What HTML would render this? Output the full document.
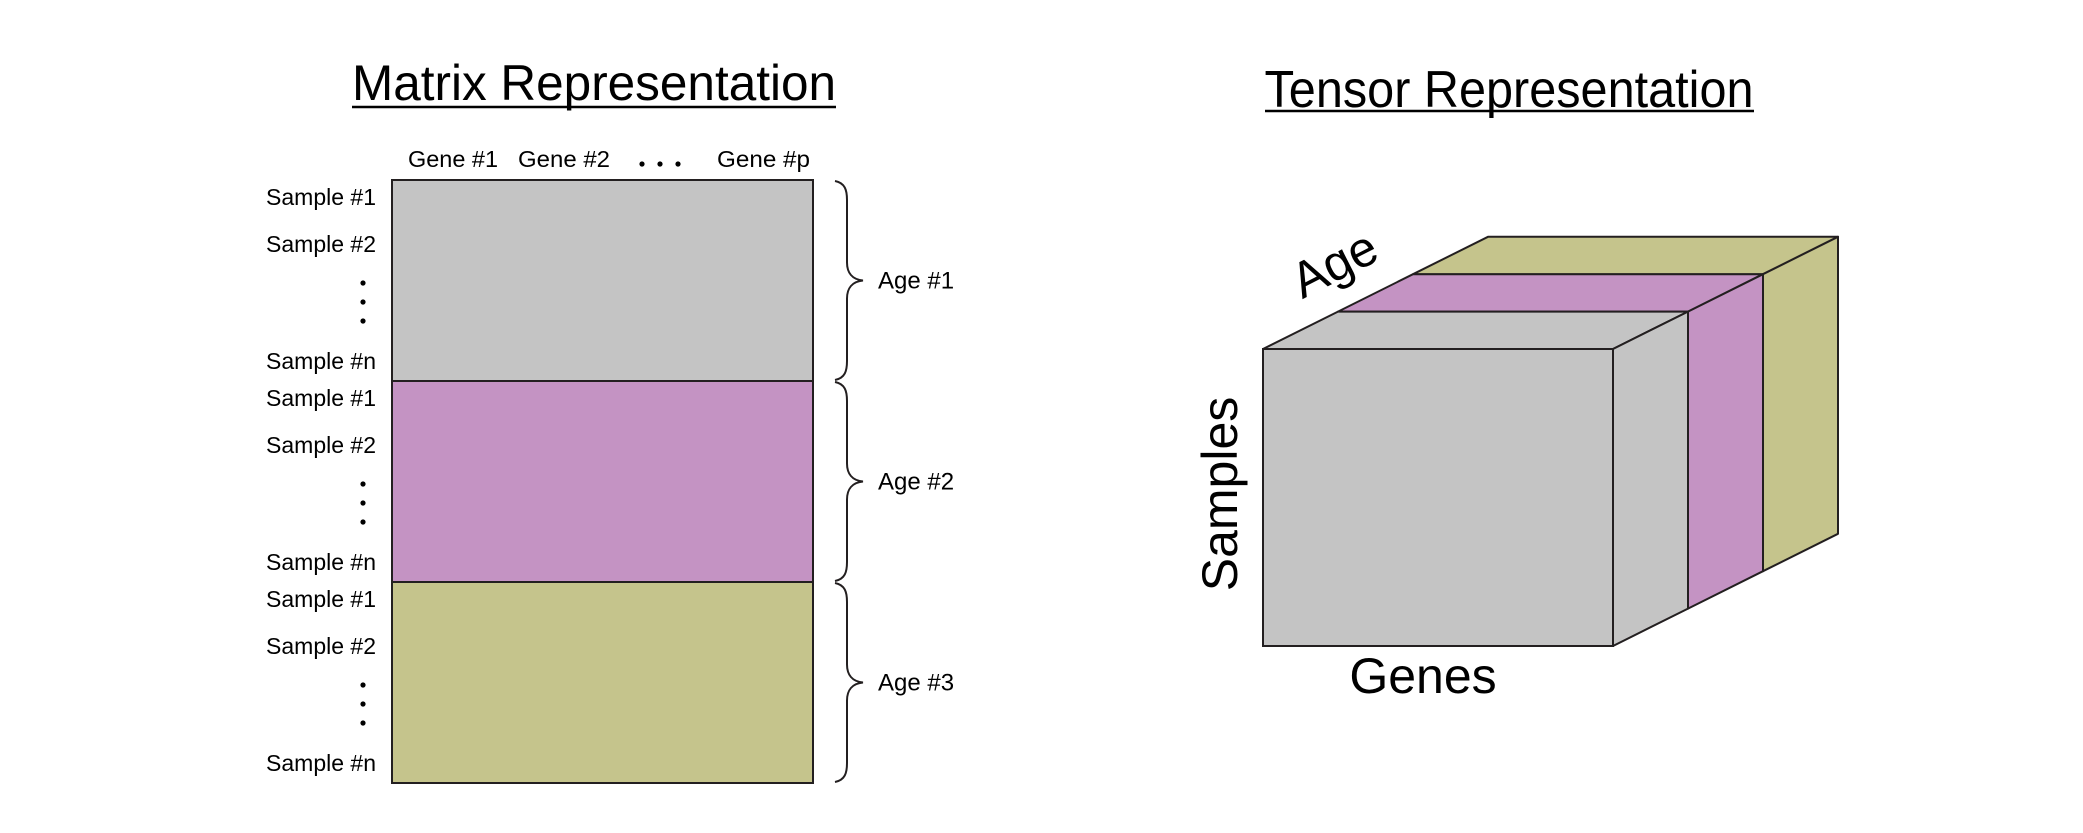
<!DOCTYPE html>
<html><head><meta charset="utf-8"><style>
html,body{margin:0;padding:0;background:#fff;}
svg{display:block;font-family:"Liberation Sans",sans-serif;}
</style></head><body>
<svg id="fig" width="2083" height="833" viewBox="0 0 2083 833">
<g id="matrix">
  <text x="594" y="100" font-size="50" text-anchor="middle" textLength="484" lengthAdjust="spacingAndGlyphs">Matrix Representation</text>
  <line x1="352" y1="107" x2="836" y2="107" stroke="#000" stroke-width="2.5"/>
  <text x="408" y="167" font-size="23" textLength="90" lengthAdjust="spacingAndGlyphs">Gene #1</text>
  <text x="518" y="167" font-size="23" textLength="92" lengthAdjust="spacingAndGlyphs">Gene #2</text>
  <text x="717" y="167" font-size="23" textLength="93" lengthAdjust="spacingAndGlyphs">Gene #p</text>
  <g fill="#000">
    <circle cx="642" cy="164" r="2.6"/><circle cx="660" cy="164" r="2.6"/><circle cx="678" cy="164" r="2.6"/>
  </g>
  <g id="blocks"></g>
  <g id="rowlabels"></g>
</g>
<g id="tensor">
  <text x="1509" y="107" font-size="52" text-anchor="middle" textLength="489" lengthAdjust="spacingAndGlyphs">Tensor Representation</text>
  <line x1="1265" y1="111" x2="1754" y2="111" stroke="#000" stroke-width="2.5"/>
  <g id="cube"></g>
  <text x="0" y="0" font-size="50" text-anchor="middle" transform="translate(1342,279) rotate(-27)">Age</text>
  <text x="0" y="0" font-size="50" text-anchor="middle" transform="translate(1237,494) rotate(-90)">Samples</text>
  <text x="1423" y="693" font-size="50" text-anchor="middle">Genes</text>
</g>
</svg>
<script>
const ageGroups = ['Age #1','Age #2','Age #3'];
const groupColors = ['#c4c4c4','#c493c3','#c5c48c'];
const sampleLabels = ['Sample #1','Sample #2','Sample #n'];
const NS='http://www.w3.org/2000/svg';
function mk(tag,attrs,parent){const e=document.createElementNS(NS,tag);for(const k in attrs)e.setAttribute(k,attrs[k]);parent.appendChild(e);return e;}
// matrix geometry
const mx0=392,mx1=813,my0=180,my1=783;
const bh=(my1-my0)/ageGroups.length;
const blocks=document.getElementById('blocks');
const rl=document.getElementById('rowlabels');
ageGroups.forEach((g,i)=>{
  const y=my0+i*bh;
  const r=mk('rect',{x:mx0,y:y,width:mx1-mx0,height:bh,fill:groupColors[i],stroke:'#231f20','stroke-width':2},blocks);
  
  
  const tip=y+bh/2;
  const p=mk('path',{d:`M835,${y+1} C845,${y+3} 847,${y+10} 847,${y+20} L847,${tip-18} C847,${tip-8} 852,${tip-1} 863,${tip} C852,${tip+1} 847,${tip+8} 847,${tip+18} L847,${y+bh-20} C847,${y+bh-10} 845,${y+bh-3} 835,${y+bh-1}`,fill:'none',stroke:'#231f20','stroke-width':2},blocks);
  
  
  const t=mk('text',{x:878,y:tip+8,'font-size':24},blocks);t.textContent=g;
  
  
  const offs=[25,72,189];
  sampleLabels.forEach((s,j)=>{
    const st=mk('text',{x:376,y:y+offs[j],'font-size':23,'text-anchor':'end'},rl);st.textContent=s;
    
    
  });
  [103,122,141].forEach(d=>{
    const c=mk('circle',{cx:363,cy:y+d,r:2.6,fill:'#000'},rl);
    
    
  });
});
// tensor cube
const cube=document.getElementById('cube');
const x0=1263,y0=349,x1=1613,y1=646,dx=75,dy=-37.4;
for(let k=ageGroups.length-1;k>=0;k--){
  const a=k,b=k+1;
  const top=mk('polygon',{points:`${x0+a*dx},${y0+a*dy} ${x1+a*dx},${y0+a*dy} ${x1+b*dx},${y0+b*dy} ${x0+b*dx},${y0+b*dy}`,fill:groupColors[k],stroke:'#231f20','stroke-width':2,'stroke-linejoin':'round'},cube);
  
  
  const side=mk('polygon',{points:`${x1+a*dx},${y0+a*dy} ${x1+b*dx},${y0+b*dy} ${x1+b*dx},${y1+b*dy} ${x1+a*dx},${y1+a*dy}`,fill:groupColors[k],stroke:'#231f20','stroke-width':2,'stroke-linejoin':'round'},cube);
  
  
}
const front=mk('rect',{x:x0,y:y0,width:x1-x0,height:y1-y0,fill:groupColors[0],stroke:'#231f20','stroke-width':2},cube);


</script>
</body></html>
